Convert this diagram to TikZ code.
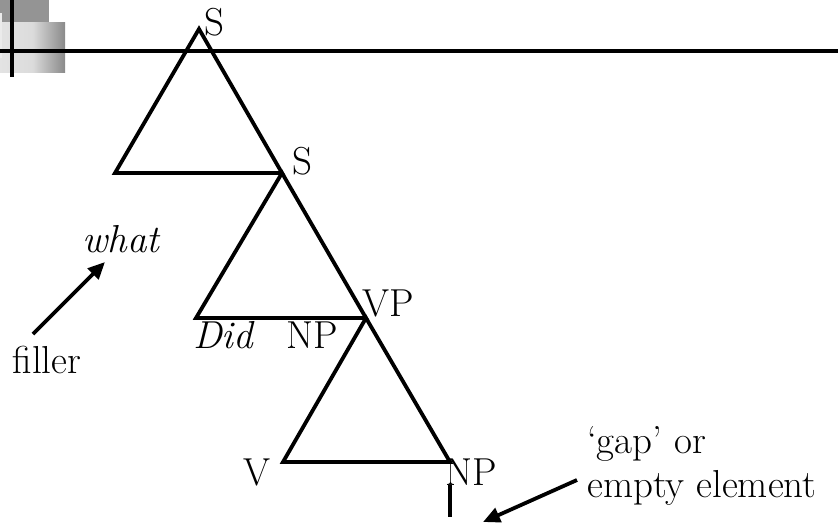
\documentclass[tikz,border=0pt]{standalone}
\usepackage{fontspec}
\setmainfont{Latin Modern Roman}
\usetikzlibrary{arrows.meta}
\newcommand\slidefont{\fontsize{39}{44}\selectfont}

\begin{document}
\begin{tikzpicture}[x=1pt, y=-1pt, line join=miter,
  tri/.style={draw, line width=3.8pt},
  lab/.style={anchor=base, inner sep=0pt},
  ptr/.style={line width=3.8pt, -{Triangle[length=17pt,width=15pt]}}]
\useasboundingbox (0,0) rectangle (838,525);
% slide decoration
\fill[black!42] (0,-10) rectangle (49,22);
\shade[left color=black!11, right color=black!46, middle color=black!14] (0,22) rectangle (65,72);
\fill[black!8] (0,13) rectangle (2,58);
\draw[line width=3.6pt] (12,0) -- (12,77);
\draw[line width=3.6pt] (0,51) -- (838,51);
% tree
\coordinate (top) at (199,29);
\coordinate (s) at (282,173);
\coordinate (vp) at (366,318);
\coordinate (np) at (450,462);
\coordinate (l1) at (115,173);
\coordinate (l2) at (196,318);
\coordinate (l3) at (283,462);
\draw[tri] (top) -- (l1) -- (s) -- cycle;
\draw[tri] (s) -- (l2) -- (vp) -- cycle;
\draw[tri] (vp) -- (l3) -- (np) -- cycle;
\node[lab] (S1) at (214,35) {\slidefont S};
\node[lab] (S2) at (302,174) {\slidefont S};
\node[lab] (VP) at (388,316) {\slidefont VP};
\node[lab] (Did) at (223,348) {\slidefont\itshape Did};
\node[lab] (NP1) at (312,348) {\slidefont NP};
\node[lab] (V) at (257,485) {\slidefont V};
\node[lab] (NP2) at (471,485) {\slidefont NP};
\coordinate (gaptop) at (450,485);
\coordinate (gapbot) at (450,517);
\draw[line width=3.6pt] (gaptop) -- (gapbot);
% filler and gap
\node[lab] (what) at (121,252) {\slidefont\itshape what};
\node[lab] (filler) at (47,373) {\slidefont filler};
\node[lab, anchor=base west, align=left, font=\slidefont] (gap) at (587,497) {‘gap’ or\\empty element};
\coordinate (filltail) at (33,334);
\coordinate (fillhead) at (105,262);
\coordinate (gaptail) at (577,480);
\coordinate (gaphead) at (483,522);
\draw[ptr] (filltail) -- (fillhead);
\draw[ptr] (gaptail) -- (gaphead);
\end{tikzpicture}
\end{document}
